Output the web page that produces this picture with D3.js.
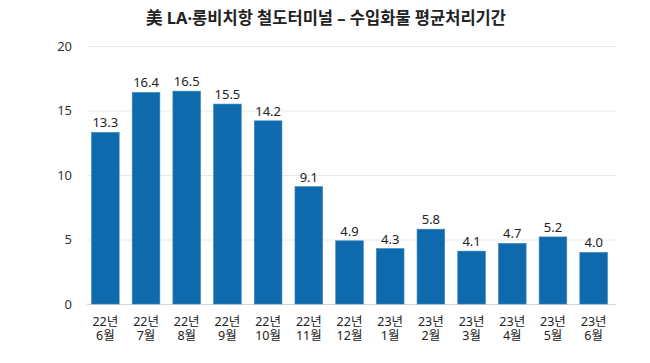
<!DOCTYPE html>
<html><head><meta charset="utf-8">
<script src="https://cdn.jsdelivr.net/npm/d3@7"></script>
<style>body{margin:0;background:#fff}svg{display:block}text{font-family:"Noto Sans","Noto Sans CJK KR",sans-serif}</style>
</head><body>
<svg id="c" width="650" height="363"></svg>
<script>
const title = "美 LA·롱비치항 철도터미널 – 수입화물 평균처리기간";
const years = ["22년","22년","22년","22년","22년","22년","22년","23년","23년","23년","23년","23년","23년"];
const months = ["6월","7월","8월","9월","10월","11월","12월","1월","2월","3월","4월","5월","6월"];
const values = [13.3,16.4,16.5,15.5,14.2,9.1,4.9,4.3,5.8,4.1,4.7,5.2,4.0];
const yTicks = [0,5,10,15,20];

const svg = d3.select("#c");
const idx = d3.range(values.length);
const x = d3.scaleBand().domain(idx).range([85,614]).paddingInner(0.32).paddingOuter(0.16);
const y = d3.scaleLinear().domain([0,20]).range([304,46]);

svg.append("text").attr("x",326).attr("y",24).attr("text-anchor","middle")
  .attr("font-size",16.5).attr("font-weight","bold").attr("fill","#222")
  .attr("font-family",'"Noto Sans CJK KR",sans-serif').text(title);

const grid = svg.append("g");
grid.selectAll("line").data(yTicks).join("line")
  .attr("x1",87).attr("x2",616).attr("y1",d=>y(d)+0.5).attr("y2",d=>y(d)+0.5)
  .attr("stroke",d=>d===0?"#d6d6d6":"#e8e8e8").attr("stroke-width",1);

const yAxis = d3.axisLeft(y).tickValues(yTicks).tickSize(0).tickPadding(0);
const ya = svg.append("g").attr("transform","translate(72,0)").call(yAxis);
ya.select(".domain").remove();
ya.selectAll("text").attr("font-size",13).attr("fill","#333").attr("font-family",'"Noto Sans","Noto Sans CJK KR",sans-serif');

svg.append("g").selectAll("rect").data(values).join("rect")
  .attr("x",(d,i)=>x(i)).attr("width",x.bandwidth())
  .attr("y",d=>y(d)).attr("height",d=>y(0)-y(d))
  .attr("fill","#0f6aad").attr("stroke","#3a86c0").attr("stroke-width",0.6);

svg.append("g").selectAll("text").data(values).join("text")
  .attr("x",(d,i)=>x(i)+x.bandwidth()/2).attr("y",d=>y(d)-5)
  .attr("text-anchor","middle").attr("font-size",13).attr("fill","#222")
  .text(d=>d.toFixed(1));

const xl = svg.append("g");
idx.forEach(i=>{
  const cx = x(i)+x.bandwidth()/2;
  xl.append("text").attr("x",cx).attr("y",326).attr("text-anchor","middle")
    .attr("font-size",12.5).attr("fill","#222").text(years[i]);
  xl.append("text").attr("x",cx).attr("y",340).attr("text-anchor","middle")
    .attr("font-size",12.5).attr("fill","#222").text(months[i]);
});
</script>
</body></html>
